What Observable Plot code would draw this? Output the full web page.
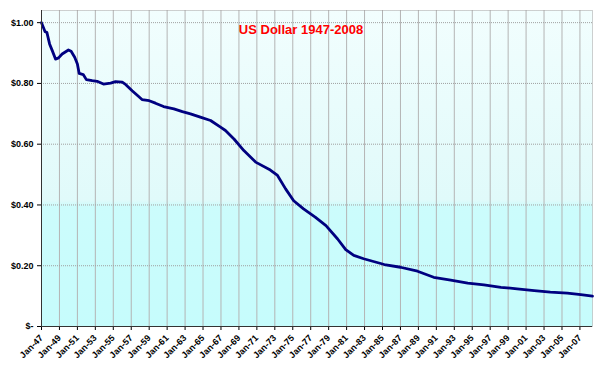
<!DOCTYPE html>
<html><head><meta charset="utf-8">
<script src="https://cdn.jsdelivr.net/npm/d3@7"></script>
<script src="https://cdn.jsdelivr.net/npm/@observablehq/plot@0.6"></script>
<style>body{margin:0;background:#fff} svg{font-family:"Liberation Sans",Arial,sans-serif}</style>
</head><body><div id="chart"></div>
<script>
const years = [1947.0,1947.4,1947.6,1947.9,1948.2,1948.56,1948.9,1949.3,1950.0,1950.3,1950.7,1951.0,1951.2,1951.65,1952.0,1952.65,1953.2,1953.9,1954.7,1955.25,1956.0,1956.4,1957.1,1957.7,1958.2,1959.0,1959.7,1960.6,1961.75,1962.7,1963.6,1964.7,1965.84,1966.95,1967.5,1968.45,1969.55,1970.86,1972.5,1973.3,1974.2,1975.1,1976.2,1977.5,1978.7,1980.0,1980.9,1981.8,1982.9,1984.0,1985.2,1987.0,1988.9,1990.7,1992.6,1994.5,1996.3,1998.2,2000.0,2001.9,2003.7,2005.6,2007.1,2008.4];
const values = [1.0,0.97,0.968,0.93,0.908,0.88,0.884,0.897,0.91,0.906,0.886,0.864,0.833,0.829,0.8125,0.809,0.807,0.798,0.801,0.806,0.804,0.796,0.776,0.76,0.747,0.743,0.735,0.724,0.716,0.707,0.70,0.689,0.678,0.656,0.645,0.617,0.579,0.541,0.515,0.497,0.453,0.414,0.387,0.36,0.332,0.288,0.253,0.234,0.223,0.214,0.204,0.195,0.182,0.162,0.153,0.143,0.137,0.129,0.124,0.118,0.113,0.11,0.105,0.10];
const tickYears = [1947,1949,1951,1953,1955,1957,1959,1961,1963,1965,1967,1969,1971,1973,1975,1977,1979,1981,1983,1985,1987,1989,1991,1993,1995,1997,1999,2001,2003,2005,2007];
const yTicks = [0,0.2,0.4,0.6,0.8,1.0];
const title = "US Dollar 1947-2008";

const data = years.map((t, i) => ({t, v: values[i]}));

const defs = () => {
  const d = d3.create("svg:defs");
  const g = d.append("linearGradient").attr("id", "bg").attr("x1", 0).attr("y1", 0).attr("x2", 0).attr("y2", 1);
  [[0, "#f2fefe"], [0.6, "#e0fafa"], [0.62, "#ccfcfc"], [1, "#c6fcfc"]].forEach(([o, c]) =>
    g.append("stop").attr("offset", o).attr("stop-color", c));
  return d.node();
};

const chart = Plot.plot({
  width: 600, height: 369,
  marginLeft: 41, marginRight: 8, marginTop: 10, marginBottom: 43,
  style: {fontSize: "9px", fontWeight: "bold", color: "#000", background: "#fff"},
  x: {domain: [1947, 2008.4], ticks: tickYears, tickFormat: y => "Jan-" + String(y % 100).padStart(2, "0"), tickRotate: -45, label: null, tickSize: 4, tickPadding: 6},
  y: {domain: [0, 1.04], ticks: yTicks, tickFormat: d => d === 0 ? "$-" : "$" + d.toFixed(2), label: null, tickSize: 4, tickPadding: 4},
  marks: [
    defs,
    Plot.frame({fill: "url(#bg)", stroke: null}),
    Plot.ruleX(tickYears, {stroke: "#b4b4b4"}),
    Plot.ruleY(yTicks.filter(d => d > 0), {stroke: "#a0a0a0", strokeDasharray: "1,1"}),
    Plot.frame({stroke: "#a0a0a0", strokeDasharray: "1,1"}),
    Plot.line(data, {x: "t", y: "v", stroke: "#000080", strokeWidth: 2.8}),
    Plot.ruleX([1947], {stroke: "#333"}),
    Plot.ruleY([0], {stroke: "#333"}),
    Plot.text([title], {frameAnchor: "top", dx: -16, dy: 14, fill: "#ff0000", fontWeight: "bold", fontSize: 13})
  ]
});
document.getElementById("chart").append(chart);
</script>
</body></html>
